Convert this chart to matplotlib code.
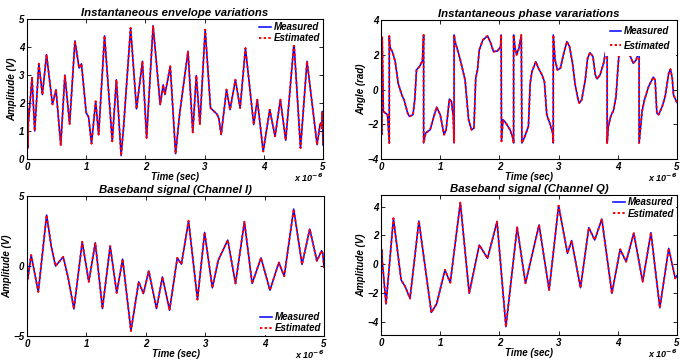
import matplotlib
matplotlib.use("Agg")
import matplotlib.pyplot as plt
from matplotlib.ticker import FuncFormatter, MultipleLocator

plt.rcParams['font.family'] = ['Liberation Sans', 'DejaVu Sans']
plt.rcParams['font.weight'] = 'bold'
plt.rcParams['font.style'] = 'italic'
plt.rcParams['mathtext.default'] = 'bf'

# ---- data (time in microseconds) ----
env_t = [0.0, 0.005, 0.01, 0.015, 0.02, 0.085, 0.13, 0.2, 0.26, 0.33, 0.43, 0.49, 0.57, 0.64, 0.72,
         0.81, 0.88, 0.92, 1.0, 1.04, 1.09, 1.16, 1.21, 1.31, 1.44, 1.51, 1.59, 1.63, 1.75, 1.85,
         1.95, 2.02, 2.13, 2.25, 2.3, 2.33, 2.42, 2.51, 2.58, 2.72, 2.8, 2.86, 2.92, 3.01, 3.1,
         3.16, 3.21, 3.24, 3.28, 3.37, 3.43, 3.52, 3.6, 3.69, 3.83, 3.89, 3.99, 4.1, 4.19, 4.28,
         4.37, 4.51, 4.62, 4.73, 4.9, 4.95, 4.97, 4.98, 4.99, 5.0]
env_v = [1.7, 0.5, 1.8, 0.4, 1.2, 2.9, 1.0, 3.4, 2.3, 3.73, 1.95, 2.48, 0.5, 3.0, 1.25,
         4.22, 3.25, 3.4, 1.65, 1.5, 0.55, 2.06, 0.87, 4.4, 0.63, 2.83, 0.12, 1.1, 4.68, 1.79,
         3.49, 0.75, 4.76, 1.94, 2.65, 2.3, 3.31, 0.19, 1.64, 3.85, 0.95, 2.98, 1.25, 4.62, 1.82,
         1.7, 1.6, 1.45, 0.87, 2.48, 1.76, 2.83, 1.82, 3.96, 1.23, 2.12, 0.27, 1.76, 0.81, 2.12,
         0.67, 4.14, 0.39, 3.49, 0.51, 1.23, 1.3, 1.1, 1.7, 0.5]

ph_t = [0.0, 0.01, 0.02, 0.04, 0.11, 0.14, 0.14, 0.15, 0.2, 0.24, 0.29, 0.35, 0.39, 0.45, 0.48,
        0.54, 0.57, 0.6, 0.65, 0.7, 0.72, 0.72, 0.755, 0.83, 0.885, 0.94, 1.0, 1.065, 1.1, 1.155,
        1.19, 1.22, 1.235, 1.235, 1.25, 1.31, 1.36, 1.42, 1.45, 1.48, 1.53, 1.57, 1.6, 1.63, 1.66,
        1.72, 1.8, 1.855, 1.9, 1.97, 2.02, 2.03, 2.035, 2.06, 2.11, 2.18, 2.23, 2.24, 2.24, 2.265,
        2.29, 2.33, 2.37, 2.38, 2.43, 2.49, 2.52, 2.55, 2.615, 2.66, 2.72, 2.76, 2.8, 2.86, 2.9,
        2.91, 2.91, 2.94, 2.98, 3.03, 3.08, 3.14, 3.185, 3.235, 3.28, 3.33, 3.35, 3.39, 3.45, 3.49,
        3.53, 3.58, 3.62, 3.65, 3.7, 3.76, 3.8, 3.82, 3.82, 3.84, 3.88, 3.93, 3.97, 4.0, 4.02,
        4.07, 4.12, 4.18, 4.2, 4.26, 4.31, 4.34, 4.36, 4.36, 4.41, 4.45, 4.52, 4.6, 4.63, 4.66,
        4.69, 4.75, 4.8, 4.86, 4.89, 4.92, 4.94, 4.99, 5.0]
ph_v = [3.1, -2.6, 3.0, -1.26, -1.45, -3.08, 3.08, 2.47, 2.09, 1.6, 0.36, -0.3, -0.6, -1.36, -1.55,
        -1.45, -0.6, 1.13, 1.32, 1.65, 3.14, -3.08, -2.5, -2.32, -1.65, -1.01, -1.45, -2.6, -2.32, -0.55,
        -0.69, -1.55, -3.08, 3.14, 2.76, 2.09, 1.42, 0.55, -0.6, -1.74, -2.32, -2.22, 0.65, 1.13, 2.28,
        2.85, 3.08, 2.66, 2.18, 2.22, 2.47, 3.14, -2.98, -1.74, -1.93, -2.32, -2.8, -3.08, 3.14, 2.37,
        1.99, 2.37, 3.14, -3.08, -2.7, -2.12, 0.36, 1.03, 1.6, 1.22, 0.84, 0.46, -1.45, -2.03, -2.5,
        -3.08, 3.14, 1.7, 1.13, 1.22, 1.99, 2.76, 2.47, 1.51, 0.27, -0.6, -0.78, -0.6, 0.55, 1.8,
        2.12, 1.9, 0.84, 0.61, 0.84, 1.51, 2.28, 3.14, -3.08, -2.12, -1.55, -1.17, -0.4, 1.13, 2.03,
        2.8, 2.9, 2.4, 2.0, 1.51, 1.7, 2.03, 3.1, -3.08, -1.26, -0.6, 0.17, 0.71, 0.55, -1.36,
        -1.45, -0.98, -0.4, 0.94, 1.17, 0.65, -0.3, -0.69, -0.75]

i_t = [0.0, 0.005, 0.01, 0.07, 0.19, 0.33, 0.41, 0.48, 0.61, 0.69, 0.79, 0.93, 1.04, 1.15, 1.27,
       1.4, 1.51, 1.61, 1.75, 1.88, 1.96, 2.05, 2.18, 2.28, 2.4, 2.53, 2.6, 2.72, 2.87, 2.99,
       3.12, 3.22, 3.38, 3.51, 3.66, 3.79, 3.94, 4.09, 4.24, 4.33, 4.49, 4.63, 4.76, 4.88, 4.96,
       4.98, 5.0]
i_v = [-1.2, -0.3, -1.0, 0.78, -1.85, 3.64, 1.37, 0.0, 0.65, -0.78, -3.07, 1.73, -1.13, 1.66, -3.04,
       1.42, -1.92, 0.49, -4.64, -1.13, -1.97, -0.35, -3.04, -0.78, -3.16, 0.58, 0.13, 3.23, -2.4, 2.4,
       -1.56, 0.42, 1.85, -1.25, 3.16, -1.25, 0.58, -1.73, 0.25, -0.73, 4.07, 0.11, 2.64, 0.37, 1.09,
       0.9, -0.1]

q_t = [0.0, 0.005, 0.01, 0.02, 0.085, 0.21, 0.34, 0.41, 0.49, 0.64, 0.85, 0.94, 1.08, 1.17, 1.34,
       1.49, 1.66, 1.8, 1.96, 2.11, 2.3, 2.44, 2.67, 2.84, 3.0, 3.15, 3.22, 3.37, 3.51, 3.61,
       3.73, 3.9, 4.04, 4.14, 4.27, 4.42, 4.56, 4.71, 4.86, 4.97, 5.0]
q_v = [1.2, -0.4, 1.0, 0.3, -2.77, 3.19, -1.1, -1.57, -2.39, 3.0, -3.36, -2.77, -0.4, -1.29, 4.28,
       -2.03, 1.33, 0.41, 2.96, -4.35, 2.56, -1.33, 2.73, -1.8, 4.07, 0.75, 1.64, -1.64, 2.54, 1.68,
       3.14, -2.03, 1.03, 0.17, 2.15, -1.22, 2.19, -3.04, 1.1, -0.99, -0.8]

titles = ['Instantaneous envelope variations', 'Instantaneous phase varariations',
          'Baseband signal (Channel I)', 'Baseband signal (Channel Q)']
ylabels = ['Amplitude (V)', 'Angle (rad)', 'Amplitude (V)', 'Amplitude (V)']
xlabel = 'Time (sec)'
legend_labels = ['Measured', 'Estimated']
x_ticks = [0, 1, 2, 3, 4, 5]

series = [(env_t, env_v), (ph_t, ph_v), (i_t, i_v), (q_t, q_v)]
ylims = [(0, 5), (-4, 4), (-5, 5), (-4.93, 4.81)]
ysteps = [1, 2, 5, 2]
leg_loc = ['upper right', 'upper right', 'lower right', 'upper right']
leg_space = [0.15, 0.45, 0.1, 0.15]
leg_pad = [0.15, 0.5, 0.15, 0.1]

fig = plt.figure(figsize=(6.8, 3.63), dpi=100)
W, H = 680, 363
boxes = [(27, 19, 296, 140), (381, 20, 296, 139), (27, 196, 297, 140), (381, 195, 296, 140)]

for k, (bx, (t, v)) in enumerate(zip(boxes, series)):
    l, top, w, h = bx
    ax = fig.add_axes([l / W, 1 - (top + h) / H, w / W, h / H])
    ts = [x * 1e-6 for x in t]
    ax.plot(ts, v, color='blue', lw=1.1, label=legend_labels[0], solid_joinstyle='round')
    ax.plot(ts, v, color='red', lw=1.4, ls=(0, (1.2, 1.2)), label=legend_labels[1])
    ax.set_xlim(0, 5e-6)
    ax.set_ylim(*ylims[k])
    ax.set_xticks([x * 1e-6 for x in x_ticks])
    ax.xaxis.set_major_formatter(FuncFormatter(lambda x, p: f'{x * 1e6:.0f}'))
    ax.yaxis.set_major_locator(MultipleLocator(ysteps[k]))
    ax.tick_params(direction='in', top=True, right=True, length=3, width=0.6, labelsize=7, pad=2)
    for lab in ax.get_xticklabels() + ax.get_yticklabels():
        lab.set_fontweight('bold')
        lab.set_fontstyle('italic')
    for s in ax.spines.values():
        s.set_linewidth(0.8)
    ax.set_title(titles[k], fontsize=8.2, fontweight='bold', fontstyle='italic', pad=2)
    ax.set_xlabel(xlabel, fontsize=7, fontweight='bold', fontstyle='italic', labelpad=0)
    ax.set_ylabel(ylabels[k], fontsize=7, fontweight='bold', fontstyle='italic', labelpad=1)
    ax.text(1.0, -0.135, r'x 10$^{-6}$', transform=ax.transAxes, ha='right', va='center',
            fontsize=6.5, fontweight='bold', fontstyle='italic')
    leg = ax.legend(loc=leg_loc[k], fontsize=7, handlelength=1.2, handletextpad=0.3,
                    borderpad=leg_pad[k], labelspacing=leg_space[k], borderaxespad=0.15,
                    frameon=True, fancybox=False)
    leg.get_frame().set_edgecolor('none')
    leg.get_frame().set_facecolor('white')
    leg.get_frame().set_alpha(1)
    for txt in leg.get_texts():
        txt.set_fontweight('bold')
        txt.set_fontstyle('italic')

fig.savefig('out.png', dpi=100)
